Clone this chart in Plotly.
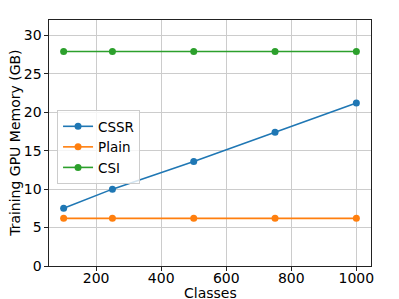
import plotly.graph_objects as go

classes = [100, 250, 500, 750, 1000]
cssr = [7.5, 10.0, 13.6, 17.4, 21.2]
plain = [6.2, 6.2, 6.2, 6.2, 6.2]
csi = [27.9, 27.9, 27.9, 27.9, 27.9]
x_ticks = [200, 400, 600, 800, 1000]
y_ticks = [0, 5, 10, 15, 20, 25, 30]

series = [("CSSR", cssr, "#1f77b4"), ("Plain", plain, "#ff7f0e"), ("CSI", csi, "#2ca02c")]

fig = go.Figure()
for name, vals, color in series:
    fig.add_trace(go.Scatter(x=classes, y=vals, name=name, mode="lines+markers",
                             line=dict(color=color, width=1.6),
                             marker=dict(color=color, size=7)))

font = "DejaVu Sans"
axis_common = dict(showline=True, linecolor="#222222", linewidth=1.2, mirror=True,
                   showgrid=True, gridcolor="#cccccc", gridwidth=1,
                   ticks="outside", ticklen=3.5, tickcolor="#222222",
                   tickfont=dict(family=font, size=14, color="black"),
                   zeroline=False, automargin=False)

fig.update_layout(
    width=399, height=299,
    margin=dict(l=49, r=28, t=20, b=33),
    paper_bgcolor="white", plot_bgcolor="white",
    font=dict(family=font, size=14, color="black"),
    xaxis=dict(range=[55, 1045], tickvals=x_ticks, ticklabelstandoff=-4, **axis_common),
    yaxis=dict(range=[0, 32], tickvals=y_ticks, **axis_common),
    legend=dict(x=0.025, y=0.634, xanchor="left", yanchor="top",
                bgcolor="rgba(255,255,255,0.8)", bordercolor="#cccccc", borderwidth=1,
                font=dict(family=font, size=13.5), itemwidth=30, tracegroupgap=0),
    showlegend=True,
    annotations=[
        dict(text="Classes", xref="paper", yref="paper", x=0.5, y=-0.108,
             xanchor="center", yanchor="middle", showarrow=False,
             font=dict(family=font, size=14, color="black")),
        dict(text="Training GPU Memory (GB)", xref="paper", yref="paper",
             x=-0.106, y=0.5, xanchor="center", yanchor="middle", textangle=-90,
             showarrow=False, font=dict(family=font, size=14, color="black")),
    ],
)

fig.write_html("out.html", config={"displayModeBar": False},
               post_script="document.body.style.margin='0';")
